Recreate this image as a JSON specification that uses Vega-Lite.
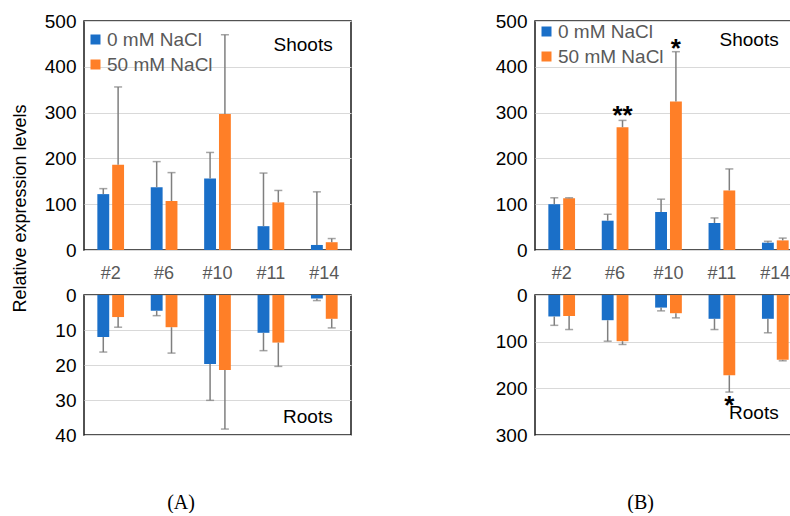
{
  "$schema": "https://vega.github.io/schema/vega-lite/v6.json",
  "padding": {"left": 10, "top": 11, "right": 0, "bottom": 0},
  "background": "white",
  "spacing": 142,
  "resolve": {"scale": {"color": "independent"}, "legend": {"color": "independent"}},
  "config": {
    "font": "Liberation Sans",
    "view": {"stroke": "#1a1a1a", "strokeWidth": 1.5},
    "axis": {"domain": false, "ticks": false, "grid": false, "labelFont": "Liberation Sans", "labelOverlap": false},
    "axisY": {"grid": true, "gridColor": "#d9d9d9", "gridWidth": 1.2, "labelFontSize": 19, "labelColor": "#000000", "labelPadding": 8},
    "axisX": {"labelFontSize": 18, "labelColor": "#595959", "labelAngle": 0, "labelPadding": 14},
    "legend": {"orient": "none", "symbolType": "square", "symbolSize": 100, "symbolStrokeWidth": 0, "symbolOpacity": 1, "labelFontSize": 19, "labelColor": "#595959", "labelFont": "Liberation Sans", "labelOffset": 2, "rowPadding": 5, "padding": 0, "title": null},
    "title": {"font": "Liberation Serif", "fontSize": 20, "fontWeight": "normal", "color": "#000000"}
  },
  "datasets": {
    "expr": [
      {"panel": "A", "part": "Shoots", "line": "#2", "group": "0 mM NaCl", "value": 122, "upper": 134},
      {"panel": "A", "part": "Shoots", "line": "#2", "group": "50 mM NaCl", "value": 186, "upper": 356},
      {"panel": "A", "part": "Shoots", "line": "#6", "group": "0 mM NaCl", "value": 137, "upper": 193},
      {"panel": "A", "part": "Shoots", "line": "#6", "group": "50 mM NaCl", "value": 107, "upper": 169},
      {"panel": "A", "part": "Shoots", "line": "#10", "group": "0 mM NaCl", "value": 156, "upper": 213},
      {"panel": "A", "part": "Shoots", "line": "#10", "group": "50 mM NaCl", "value": 297, "upper": 470},
      {"panel": "A", "part": "Shoots", "line": "#11", "group": "0 mM NaCl", "value": 52, "upper": 168},
      {"panel": "A", "part": "Shoots", "line": "#11", "group": "50 mM NaCl", "value": 104, "upper": 130},
      {"panel": "A", "part": "Shoots", "line": "#14", "group": "0 mM NaCl", "value": 11, "upper": 127},
      {"panel": "A", "part": "Shoots", "line": "#14", "group": "50 mM NaCl", "value": 17, "upper": 25},
      {"panel": "A", "part": "Roots", "line": "#2", "group": "0 mM NaCl", "value": 12.0, "upper": 16.3},
      {"panel": "A", "part": "Roots", "line": "#2", "group": "50 mM NaCl", "value": 6.3, "upper": 9.2},
      {"panel": "A", "part": "Roots", "line": "#6", "group": "0 mM NaCl", "value": 4.5, "upper": 5.9},
      {"panel": "A", "part": "Roots", "line": "#6", "group": "50 mM NaCl", "value": 9.2, "upper": 16.6},
      {"panel": "A", "part": "Roots", "line": "#10", "group": "0 mM NaCl", "value": 19.7, "upper": 30.1},
      {"panel": "A", "part": "Roots", "line": "#10", "group": "50 mM NaCl", "value": 21.4, "upper": 38.3},
      {"panel": "A", "part": "Roots", "line": "#11", "group": "0 mM NaCl", "value": 10.8, "upper": 15.9},
      {"panel": "A", "part": "Roots", "line": "#11", "group": "50 mM NaCl", "value": 13.6, "upper": 20.4},
      {"panel": "A", "part": "Roots", "line": "#14", "group": "0 mM NaCl", "value": 1.0, "upper": 1.6},
      {"panel": "A", "part": "Roots", "line": "#14", "group": "50 mM NaCl", "value": 6.8, "upper": 9.4},
      {"panel": "B", "part": "Shoots", "line": "#2", "group": "0 mM NaCl", "value": 100, "upper": 114},
      {"panel": "B", "part": "Shoots", "line": "#2", "group": "50 mM NaCl", "value": 113, "upper": 114},
      {"panel": "B", "part": "Shoots", "line": "#6", "group": "0 mM NaCl", "value": 64, "upper": 78},
      {"panel": "B", "part": "Shoots", "line": "#6", "group": "50 mM NaCl", "value": 268, "upper": 283},
      {"panel": "B", "part": "Shoots", "line": "#10", "group": "0 mM NaCl", "value": 83, "upper": 111},
      {"panel": "B", "part": "Shoots", "line": "#10", "group": "50 mM NaCl", "value": 324, "upper": 433},
      {"panel": "B", "part": "Shoots", "line": "#11", "group": "0 mM NaCl", "value": 59, "upper": 70},
      {"panel": "B", "part": "Shoots", "line": "#11", "group": "50 mM NaCl", "value": 130, "upper": 177},
      {"panel": "B", "part": "Shoots", "line": "#14", "group": "0 mM NaCl", "value": 16, "upper": 19},
      {"panel": "B", "part": "Shoots", "line": "#14", "group": "50 mM NaCl", "value": 21, "upper": 26},
      {"panel": "B", "part": "Roots", "line": "#2", "group": "0 mM NaCl", "value": 46, "upper": 65},
      {"panel": "B", "part": "Roots", "line": "#2", "group": "50 mM NaCl", "value": 45, "upper": 74},
      {"panel": "B", "part": "Roots", "line": "#6", "group": "0 mM NaCl", "value": 54, "upper": 99},
      {"panel": "B", "part": "Roots", "line": "#6", "group": "50 mM NaCl", "value": 99, "upper": 106},
      {"panel": "B", "part": "Roots", "line": "#10", "group": "0 mM NaCl", "value": 27, "upper": 34},
      {"panel": "B", "part": "Roots", "line": "#10", "group": "50 mM NaCl", "value": 39, "upper": 49},
      {"panel": "B", "part": "Roots", "line": "#11", "group": "0 mM NaCl", "value": 51, "upper": 74},
      {"panel": "B", "part": "Roots", "line": "#11", "group": "50 mM NaCl", "value": 172, "upper": 208},
      {"panel": "B", "part": "Roots", "line": "#14", "group": "0 mM NaCl", "value": 51, "upper": 81},
      {"panel": "B", "part": "Roots", "line": "#14", "group": "50 mM NaCl", "value": 139, "upper": 141}
    ],
    "notes": [
      {"panel": "A", "part": "Shoots", "kind": "label", "line": "#14", "group": "50 mM NaCl", "y": 448, "label": "Shoots"},
      {"panel": "A", "part": "Roots", "kind": "label", "line": "#14", "group": "50 mM NaCl", "y": 34.8, "label": "Roots"},
      {"panel": "B", "part": "Shoots", "kind": "label", "line": "#14", "group": "50 mM NaCl", "y": 459, "label": "Shoots"},
      {"panel": "B", "part": "Roots", "kind": "label", "line": "#14", "group": "50 mM NaCl", "y": 253, "label": "Roots"},
      {"panel": "B", "part": "Shoots", "kind": "star", "line": "#6", "group": "50 mM NaCl", "y": 276, "label": "**"},
      {"panel": "B", "part": "Shoots", "kind": "star", "line": "#10", "group": "50 mM NaCl", "y": 422, "label": "*"},
      {"panel": "B", "part": "Roots", "kind": "star", "line": "#11", "group": "50 mM NaCl", "y": 256, "label": "*"}
    ]
  },
  "hconcat": [
    {
      "bounds": "flush",
      "spacing": 45,
      "resolve": {"scale": {"color": "independent"}, "legend": {"color": "independent"}},
      "title": {"text": "(A)", "orient": "bottom", "anchor": "middle", "offset": 47},
      "vconcat": [
        {
          "width": 267, "height": 229,
          "layer": [
            {
              "data": {"name": "expr"},
              "transform": [{"filter": "datum.panel === 'A' && datum.part === 'Shoots'"}],
              "mark": {"type": "bar"},
              "encoding": {
                "x": {"field": "line", "type": "nominal", "scale": {"domain": ["#2", "#6", "#10", "#11", "#14"], "paddingInner": 0.5, "paddingOuter": 0.25}, "axis": {"title": null}},
                "xOffset": {"field": "group", "type": "nominal", "scale": {"domain": ["0 mM NaCl", "50 mM NaCl"], "paddingInner": 0.2, "paddingOuter": 0}},
                "y": {"field": "value", "type": "quantitative", "scale": {"domain": [0, 500], "nice": false}, "axis": {"values": [0, 100, 200, 300, 400, 500], "labelOverlap": false, "title": "Relative expression levels", "titleAngle": 270, "titleX": -64, "titleY": 187, "titleAlign": "center", "titleBaseline": "middle", "titleFontSize": 18, "titleFontWeight": "normal", "titleColor": "#000000", "titleFont": "Liberation Sans"}},
                "color": {"field": "group", "type": "nominal", "scale": {"domain": ["0 mM NaCl", "50 mM NaCl"], "range": ["#1a6fc8", "#ff7f27"]}, "legend": {"legendX": 2, "legendY": 9}}
              }
            },
            {
              "data": {"name": "expr"},
              "transform": [{"filter": "datum.panel === 'A' && datum.part === 'Shoots'"}],
              "mark": {"type": "rule", "color": "#7f7f7f", "strokeWidth": 1.5},
              "encoding": {
                "x": {"field": "line", "type": "nominal"},
                "xOffset": {"field": "group", "type": "nominal"},
                "y": {"field": "value", "type": "quantitative", "title": "Relative expression levels"},
                "y2": {"field": "upper"}
              }
            },
            {
              "data": {"name": "expr"},
              "transform": [{"filter": "datum.panel === 'A' && datum.part === 'Shoots'"}],
              "mark": {"type": "tick", "color": "#7f7f7f", "size": 8, "thickness": 1.5},
              "encoding": {
                "x": {"field": "line", "type": "nominal"},
                "xOffset": {"field": "group", "type": "nominal"},
                "y": {"field": "upper", "type": "quantitative", "title": "Relative expression levels"}
              }
            },
            {
              "data": {"name": "notes"},
              "transform": [{"filter": "datum.panel === 'A' && datum.part === 'Shoots'"}],
              "mark": {"type": "text", "align": "right", "baseline": "middle", "dx": 1, "fontSize": 19, "color": "#000000"},
              "encoding": {
                "x": {"field": "line", "type": "nominal"},
                "xOffset": {"field": "group", "type": "nominal"},
                "y": {"field": "y", "type": "quantitative", "title": "Relative expression levels"},
                "text": {"field": "label"}
              }
            }
          ]
        },
        {
          "width": 267, "height": 140,
          "layer": [
            {
              "data": {"name": "expr"},
              "transform": [{"filter": "datum.panel === 'A' && datum.part === 'Roots'"}],
              "mark": {"type": "bar"},
              "encoding": {
                "x": {"field": "line", "type": "nominal", "scale": {"domain": ["#2", "#6", "#10", "#11", "#14"], "paddingInner": 0.5, "paddingOuter": 0.25}, "axis": null},
                "xOffset": {"field": "group", "type": "nominal", "scale": {"domain": ["0 mM NaCl", "50 mM NaCl"], "paddingInner": 0.2, "paddingOuter": 0}},
                "y": {"field": "value", "type": "quantitative", "scale": {"domain": [0, 40], "nice": false, "reverse": true}, "axis": {"values": [0, 10, 20, 30, 40], "tickCount": 5, "labelOverlap": false, "title": null}},
                "color": {"field": "group", "type": "nominal", "scale": {"domain": ["0 mM NaCl", "50 mM NaCl"], "range": ["#1a6fc8", "#ff7f27"]}, "legend": null}
              }
            },
            {
              "data": {"name": "expr"},
              "transform": [{"filter": "datum.panel === 'A' && datum.part === 'Roots'"}],
              "mark": {"type": "rule", "color": "#7f7f7f", "strokeWidth": 1.5},
              "encoding": {
                "x": {"field": "line", "type": "nominal"},
                "xOffset": {"field": "group", "type": "nominal"},
                "y": {"field": "value", "type": "quantitative", "title": null},
                "y2": {"field": "upper"}
              }
            },
            {
              "data": {"name": "expr"},
              "transform": [{"filter": "datum.panel === 'A' && datum.part === 'Roots'"}],
              "mark": {"type": "tick", "color": "#7f7f7f", "size": 8, "thickness": 1.5},
              "encoding": {
                "x": {"field": "line", "type": "nominal"},
                "xOffset": {"field": "group", "type": "nominal"},
                "y": {"field": "upper", "type": "quantitative", "title": null}
              }
            },
            {
              "data": {"name": "notes"},
              "transform": [{"filter": "datum.panel === 'A' && datum.part === 'Roots'"}],
              "mark": {"type": "text", "align": "right", "baseline": "middle", "dx": 1, "fontSize": 19, "color": "#000000"},
              "encoding": {
                "x": {"field": "line", "type": "nominal"},
                "xOffset": {"field": "group", "type": "nominal"},
                "y": {"field": "y", "type": "quantitative", "title": null},
                "text": {"field": "label"}
              }
            }
          ]
        }
      ]
    },
    {
      "spacing": 2,
      "resolve": {"scale": {"color": "independent"}, "legend": {"color": "independent"}},
      "title": {"text": "(B)", "orient": "bottom", "anchor": "middle", "offset": 47, "dx": -8},
      "vconcat": [
        {
          "width": 267, "height": 229,
          "layer": [
            {
              "data": {"name": "expr"},
              "transform": [{"filter": "datum.panel === 'B' && datum.part === 'Shoots'"}],
              "mark": {"type": "bar"},
              "encoding": {
                "x": {"field": "line", "type": "nominal", "scale": {"domain": ["#2", "#6", "#10", "#11", "#14"], "paddingInner": 0.5, "paddingOuter": 0.25}, "axis": {"title": null}},
                "xOffset": {"field": "group", "type": "nominal", "scale": {"domain": ["0 mM NaCl", "50 mM NaCl"], "paddingInner": 0.2, "paddingOuter": 0}},
                "y": {"field": "value", "type": "quantitative", "scale": {"domain": [0, 500], "nice": false}, "axis": {"values": [0, 100, 200, 300, 400, 500], "labelOverlap": false, "title": null}},
                "color": {"field": "group", "type": "nominal", "scale": {"domain": ["0 mM NaCl", "50 mM NaCl"], "range": ["#1a6fc8", "#ff7f27"]}, "legend": {"legendX": 2, "legendY": 1}}
              }
            },
            {
              "data": {"name": "expr"},
              "transform": [{"filter": "datum.panel === 'B' && datum.part === 'Shoots'"}],
              "mark": {"type": "rule", "color": "#7f7f7f", "strokeWidth": 1.5},
              "encoding": {
                "x": {"field": "line", "type": "nominal"},
                "xOffset": {"field": "group", "type": "nominal"},
                "y": {"field": "value", "type": "quantitative", "title": null},
                "y2": {"field": "upper"}
              }
            },
            {
              "data": {"name": "expr"},
              "transform": [{"filter": "datum.panel === 'B' && datum.part === 'Shoots'"}],
              "mark": {"type": "tick", "color": "#7f7f7f", "size": 8, "thickness": 1.5},
              "encoding": {
                "x": {"field": "line", "type": "nominal"},
                "xOffset": {"field": "group", "type": "nominal"},
                "y": {"field": "upper", "type": "quantitative", "title": null}
              }
            },
            {
              "data": {"name": "notes"},
              "transform": [{"filter": "datum.panel === 'B' && datum.part === 'Shoots' && datum.kind === 'label'"}],
              "mark": {"type": "text", "align": "right", "baseline": "middle", "dx": -4, "fontSize": 19, "color": "#000000"},
              "encoding": {
                "x": {"field": "line", "type": "nominal"},
                "xOffset": {"field": "group", "type": "nominal"},
                "y": {"field": "y", "type": "quantitative", "title": null},
                "text": {"field": "label"}
              }
            },
            {
              "data": {"name": "notes"},
              "transform": [{"filter": "datum.panel === 'B' && datum.part === 'Shoots' && datum.kind === 'star'"}],
              "mark": {"type": "text", "align": "center", "baseline": "alphabetic", "fontSize": 26, "fontWeight": "bold", "color": "#000000"},
              "encoding": {
                "x": {"field": "line", "type": "nominal"},
                "xOffset": {"field": "group", "type": "nominal"},
                "y": {"field": "y", "type": "quantitative", "title": null},
                "text": {"field": "label"}
              }
            }
          ]
        },
        {
          "width": 267, "height": 140,
          "layer": [
            {
              "data": {"name": "expr"},
              "transform": [{"filter": "datum.panel === 'B' && datum.part === 'Roots'"}],
              "mark": {"type": "bar"},
              "encoding": {
                "x": {"field": "line", "type": "nominal", "scale": {"domain": ["#2", "#6", "#10", "#11", "#14"], "paddingInner": 0.5, "paddingOuter": 0.25}, "axis": null},
                "xOffset": {"field": "group", "type": "nominal", "scale": {"domain": ["0 mM NaCl", "50 mM NaCl"], "paddingInner": 0.2, "paddingOuter": 0}},
                "y": {"field": "value", "type": "quantitative", "scale": {"domain": [0, 300], "nice": false, "reverse": true}, "axis": {"values": [0, 100, 200, 300], "labelOverlap": false, "title": null}},
                "color": {"field": "group", "type": "nominal", "scale": {"domain": ["0 mM NaCl", "50 mM NaCl"], "range": ["#1a6fc8", "#ff7f27"]}, "legend": null}
              }
            },
            {
              "data": {"name": "expr"},
              "transform": [{"filter": "datum.panel === 'B' && datum.part === 'Roots'"}],
              "mark": {"type": "rule", "color": "#7f7f7f", "strokeWidth": 1.5},
              "encoding": {
                "x": {"field": "line", "type": "nominal"},
                "xOffset": {"field": "group", "type": "nominal"},
                "y": {"field": "value", "type": "quantitative", "title": null},
                "y2": {"field": "upper"}
              }
            },
            {
              "data": {"name": "expr"},
              "transform": [{"filter": "datum.panel === 'B' && datum.part === 'Roots'"}],
              "mark": {"type": "tick", "color": "#7f7f7f", "size": 8, "thickness": 1.5},
              "encoding": {
                "x": {"field": "line", "type": "nominal"},
                "xOffset": {"field": "group", "type": "nominal"},
                "y": {"field": "upper", "type": "quantitative", "title": null}
              }
            },
            {
              "data": {"name": "notes"},
              "transform": [{"filter": "datum.panel === 'B' && datum.part === 'Roots' && datum.kind === 'label'"}],
              "mark": {"type": "text", "align": "right", "baseline": "middle", "dx": -4, "fontSize": 19, "color": "#000000"},
              "encoding": {
                "x": {"field": "line", "type": "nominal"},
                "xOffset": {"field": "group", "type": "nominal"},
                "y": {"field": "y", "type": "quantitative", "title": null},
                "text": {"field": "label"}
              }
            },
            {
              "data": {"name": "notes"},
              "transform": [{"filter": "datum.panel === 'B' && datum.part === 'Roots' && datum.kind === 'star'"}],
              "mark": {"type": "text", "align": "center", "baseline": "alphabetic", "fontSize": 26, "fontWeight": "bold", "color": "#000000"},
              "encoding": {
                "x": {"field": "line", "type": "nominal"},
                "xOffset": {"field": "group", "type": "nominal"},
                "y": {"field": "y", "type": "quantitative", "title": null},
                "text": {"field": "label"}
              }
            }
          ]
        }
      ]
    }
  ]
}
